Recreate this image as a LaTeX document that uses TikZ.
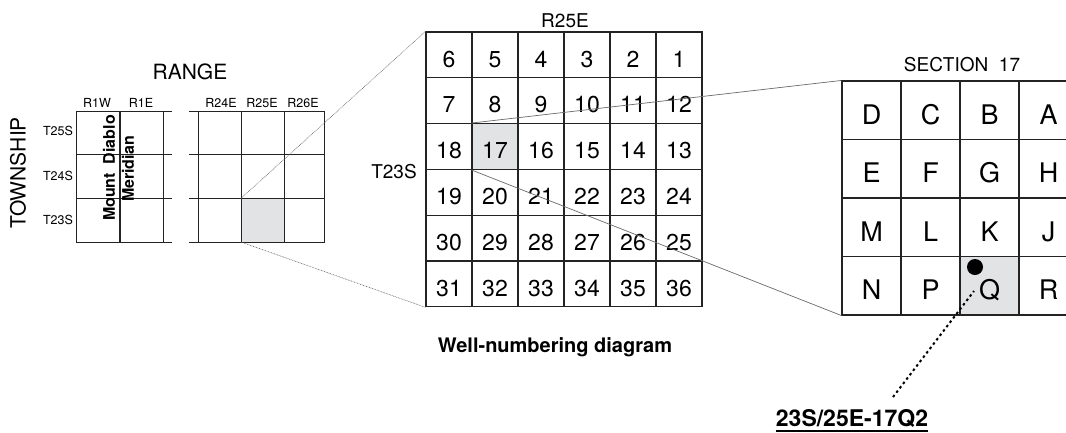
\documentclass[tikz,border=0pt]{standalone}
\usepackage{fontspec}
\setmainfont{TeX Gyre Heros}
\usetikzlibrary{calc}
\definecolor{Shade}{RGB}{226, 227, 229}
\definecolor{Rule}{RGB}{35, 35, 35}
\definecolor{Leader}{RGB}{105, 105, 105}
\newcommand{\pxfont}[1]{\fontsize{#1}{#1}\selectfont}

\begin{document}
\begin{tikzpicture}[x=1pt, y=-1pt,
  seccell/.style={draw=Rule, line width=1.1pt, minimum width=46pt, minimum height=45.8pt,
    inner sep=0pt, text height=24.5pt, text depth=0pt, font=\pxfont{23}},
  qcell/.style={draw=Rule, line width=1.1pt, minimum width=59pt, minimum height=58.5pt,
    inner sep=0pt, text height=27.5pt, text depth=0pt, font=\pxfont{27}},
  small/.style={font=\pxfont{12.5}}]

\useasboundingbox (0,0) rectangle (1066,432);

% Index map of ranges and townships
\fill[Shade] (241,198.3) rectangle (284,242);
\foreach \y in {111,154.7,198.3,242} {
  \draw[Rule, line width=0.9pt] (76,\y) -- (172,\y);
  \draw[Rule, line width=0.9pt] (189,\y) -- (325,\y);
}
\foreach \x in {76,163,198,241,284,324}
  \draw[Rule, line width=0.9pt] (\x,111) -- (\x,242);
\draw[Rule, line width=2pt] (120,111) -- (120,242);
\coordinate (rsel-nw) at (241,198.3);
\coordinate (rsel-sw) at (241,242);

\node[font=\pxfont{21}] (range) at (190,72) {RANGE};
\node[small] (r1w) at (97,103) {R1W};
\node[small] (r1e) at (141,103) {R1E};
\node[small] (r24e) at (221,103) {R24E};
\node[small] (r25e) at (262,103) {R25E};
\node[small] (r26e) at (303,103) {R26E};

\node[rotate=90, font=\pxfont{21}] (township) at (18,173) {TOWNSHIP};
\node[small] (t25s) at (58,131) {T25S};
\node[small] (t24s) at (58,176) {T24S};
\node[small] (t23s) at (58,220) {T23S};

\node[rotate=90, font=\pxfont{16}\bfseries] (mtdiablo) at (109,168) {Mount\ \ Diablo};
\node[rotate=90, font=\pxfont{16}\bfseries] (meridian) at (128,169) {Meridian};

% Township T23S R25E, sections 1 to 36
\foreach \n [count=\i from 0] in {6,5,4,3,2,1,7,8,9,10,11,12,18,17,16,15,14,13,
    19,20,21,22,23,24,30,29,28,27,26,25,31,32,33,34,35,36} {
  \pgfmathtruncatemacro{\r}{\i/6}
  \pgfmathtruncatemacro{\c}{\i-6*\r}
  \ifnum\n=17 \def\cellfill{Shade}\else\def\cellfill{none}\fi
  \node[seccell, fill=\cellfill] (s\n) at ({449+46*\c},{54.9+45.8*\r}) {\n};
}
\node[font=\pxfont{19}] (twprange) at (565,21) {R25E};
\node[font=\pxfont{19}] (twprow) at (394,172) {T23S};

% Section 17, quarter-quarter tracts
\foreach \l [count=\i from 0] in {D,C,B,A,E,F,G,H,M,L,K,J,N,P,Q,R} {
  \pgfmathtruncatemacro{\r}{\i/4}
  \pgfmathtruncatemacro{\c}{\i-4*\r}
  \ifnum\i=14 \def\cellfill{Shade}\else\def\cellfill{none}\fi
  \node[qcell, fill=\cellfill] (q\l) at ({871.5+59*\c},{110.25+58.5*\r}) {\l};
}
\node[font=\pxfont{19}] (sectitle) at (962,65) {SECTION\ \ 17};

% Enlargement leaders
\draw[Leader, line width=0.6pt, dash pattern=on 0.8pt off 0.8pt] (rsel-nw) -- (s6.north west);
\draw[Leader, line width=0.6pt, dash pattern=on 0.8pt off 0.8pt] (rsel-sw) -- (s31.south west);
\draw[Leader, line width=0.7pt] (s17.north west) -- (qD.north west);
\draw[Leader, line width=0.7pt] (s17.south west) -- (qN.south west);

% Well location and its number
\node[circle, fill=black, minimum size=16pt, inner sep=0pt] (well) at (975,267) {};
\node[font=\pxfont{23}\bfseries, inner sep=0pt] (wellid) at (852,418) {23S/25E-17Q2};
\draw[line width=2pt] ($(wellid.base west)+(0,4.5)$) -- ($(wellid.base east)+(0,4.5)$);
\coordinate (tagfoot) at (893,397);
\coordinate (tagtip) at (974,291);
\draw[line width=2pt, dash pattern=on 2.5pt off 3pt] (tagfoot) -- (tagtip);

% Caption
\node[font=\pxfont{20}\bfseries] (caption) at (555,347) {Well-numbering diagram};

\end{tikzpicture}
\end{document}
